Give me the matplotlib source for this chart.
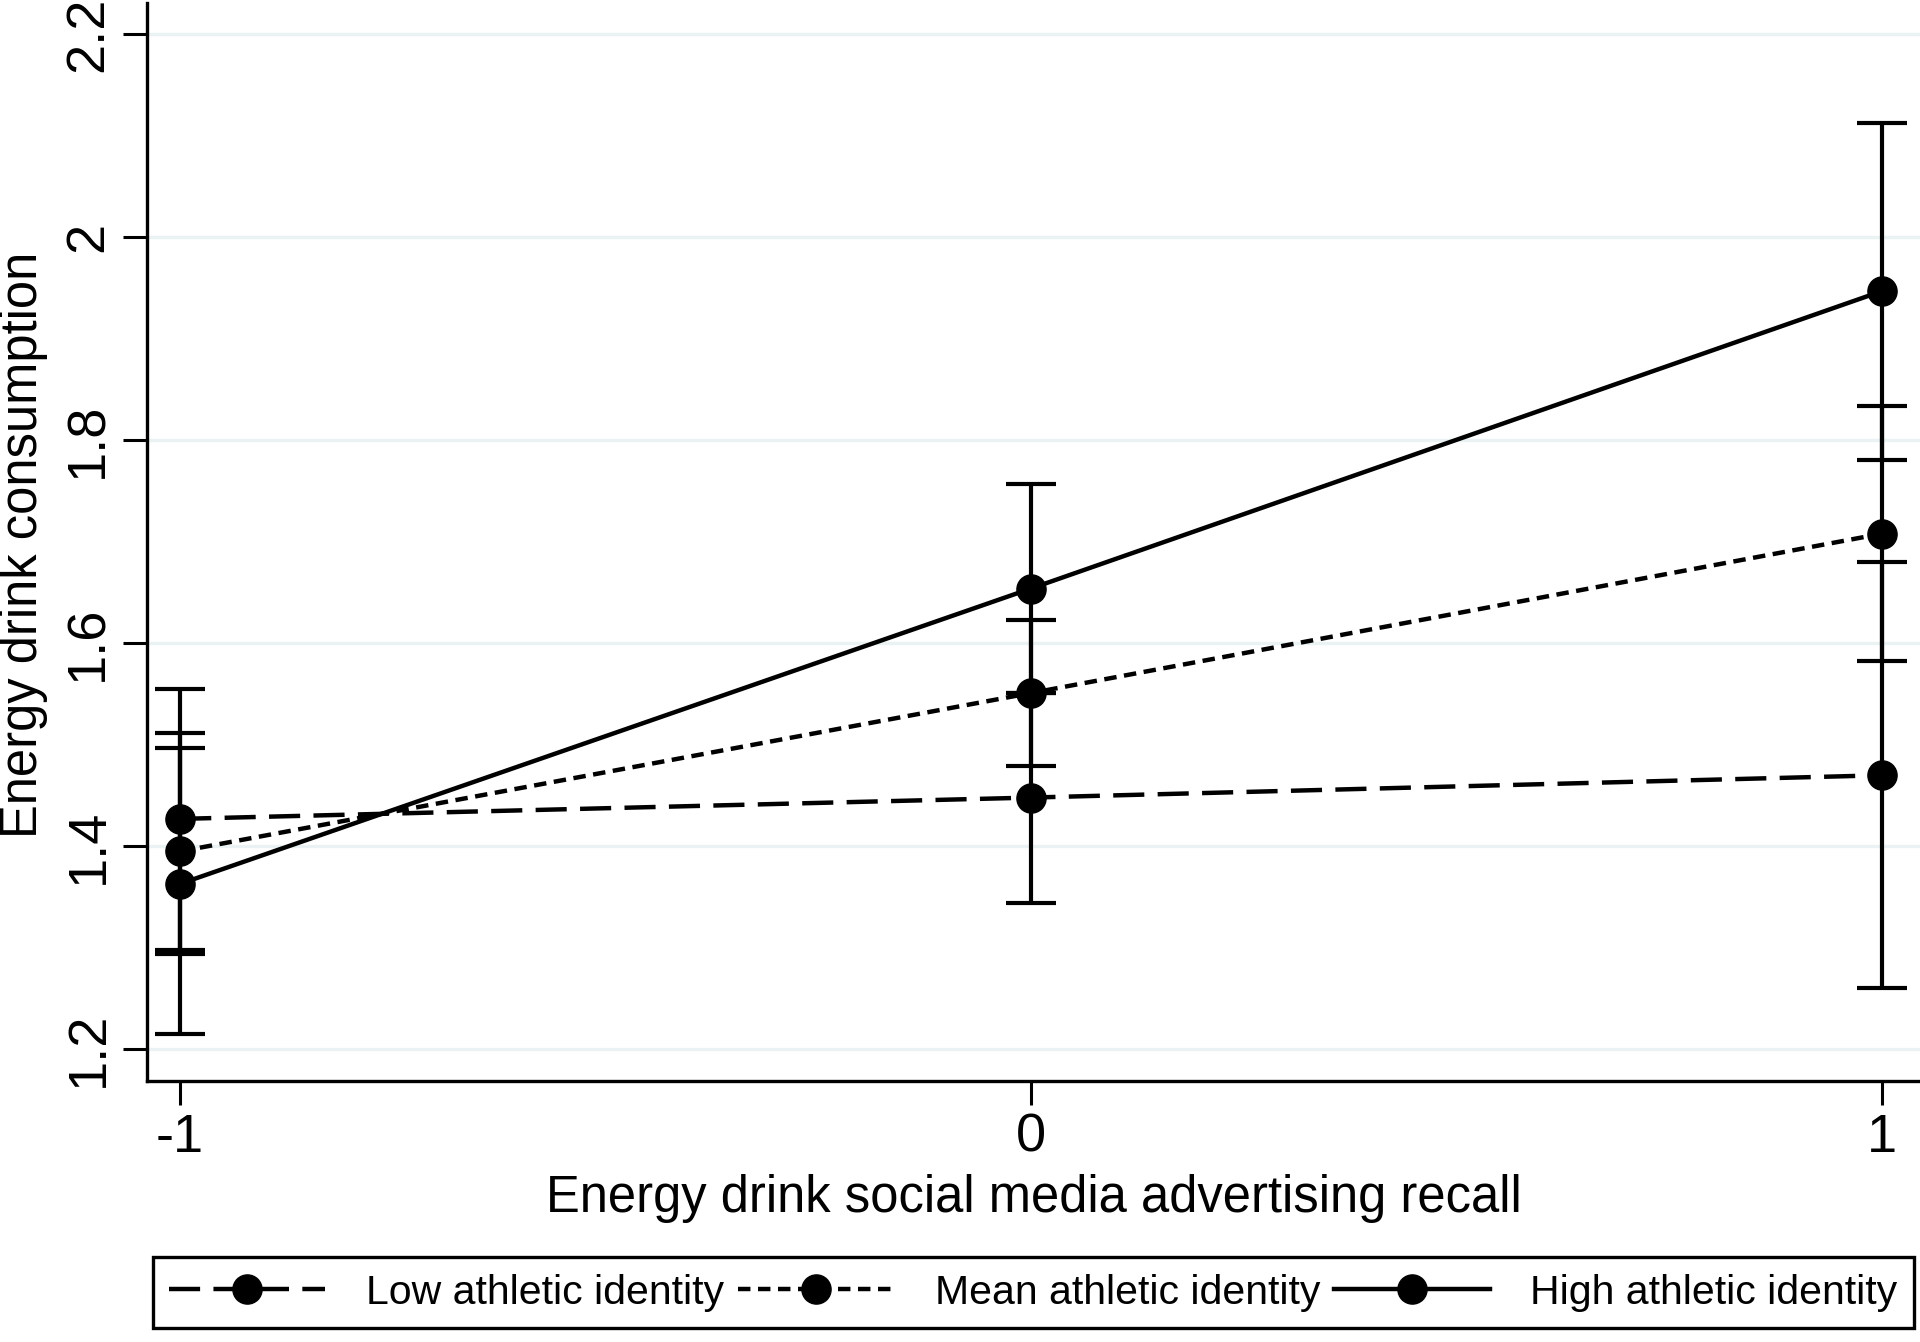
import matplotlib
matplotlib.use("Agg")
import matplotlib.pyplot as plt

plt.rcParams['font.family'] = ['Liberation Sans', 'DejaVu Sans']

# values
x = [-1, 0, 1]
x_labels = ['-1', '0', '1']
y_ticks = [1.2, 1.4, 1.6, 1.8, 2.0, 2.2]
y_labels = ['1.2', '1.4', '1.6', '1.8', '2', '2.2']

low = [1.427, 1.448, 1.470]
low_lo = [1.298, 1.344, 1.260]
low_hi = [1.555, 1.551, 1.680]

mean = [1.395, 1.551, 1.708]
mean_lo = [1.294, 1.479, 1.583]
mean_hi = [1.497, 1.623, 1.834]

high = [1.363, 1.654, 1.947]
high_lo = [1.215, 1.551, 1.781]
high_hi = [1.512, 1.757, 2.113]

names = ['Low athletic identity', 'Mean athletic identity', 'High athletic identity']

fig = plt.figure(figsize=(19.2, 13.42), dpi=100)
ax = fig.add_axes([147/1920, 1-1080.7/1342, 1-147/1920, (1080.7-3)/1342])

series = [(low, low_lo, low_hi, (0, (7.0, 3.0))),
          (mean, mean_lo, mean_hi, (0, (2.8, 1.7))),
          (high, high_lo, high_hi, '-')]

handles = []
for (v, lo, hi, ls), nm in zip(series, names):
    err = [[a - b for a, b in zip(v, lo)], [b - a for a, b in zip(v, hi)]]
    ax.errorbar(x, v, yerr=err, fmt='none', ecolor='black', elinewidth=3.0,
                capsize=18, capthick=3.0, zorder=3)
    ln, = ax.plot(x, v, color='black', linestyle=ls, linewidth=3.2,
                  marker='o', markersize=21, zorder=4, label=nm)
    handles.append(ln)

ax.set_xlim(-1.039, 1.045)
ax.set_ylim(1.169, 2.231)
ax.set_xticks(x)
ax.set_xticklabels(x_labels)
ax.set_yticks(y_ticks)
ax.set_yticklabels(y_labels, rotation=90, va='center')
ax.tick_params(axis='both', labelsize=39, length=17, width=2.2, color='black')
ax.tick_params(axis='y', pad=7)
ax.tick_params(axis='x', pad=6)

ax.grid(axis='y', color='#EAF2F3', linewidth=2.4)
ax.set_axisbelow(True)
for s in ['top', 'right']:
    ax.spines[s].set_visible(False)
for s in ['left', 'bottom']:
    ax.spines[s].set_linewidth(2.4)

ax.set_xlabel('Energy drink social media advertising recall', fontsize=36.5, labelpad=8)
fig.text(24/1920, 1-545/1342, 'Energy drink consumption', fontsize=36.5,
         rotation=90, ha='center', va='center')

leg = ax.legend(handles=handles, loc='center', ncol=3, mode='expand',
                bbox_to_anchor=(153/1920, 4/1342, (1914-153)/1920, 91/1342),
                bbox_transform=fig.transFigure, borderaxespad=0,
                fontsize=29.5, handlelength=3.8, handletextpad=1.0,
                fancybox=False, edgecolor='black', framealpha=1)
leg.get_frame().set_linewidth(2.4)

fig.savefig("out.png", dpi=100)
